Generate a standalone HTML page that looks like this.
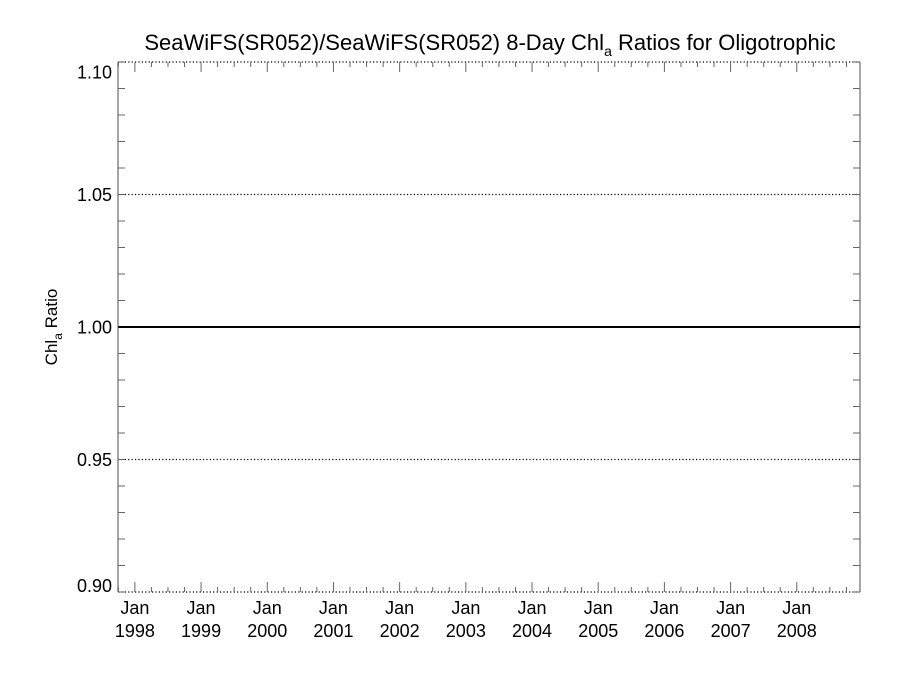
<!DOCTYPE html>
<html><head><meta charset="utf-8"><style>
body{margin:0;background:#fff;}
svg{display:block;font-family:"Liberation Sans",Arial,sans-serif;}
</style></head><body>
<svg id="chart" width="900" height="675" viewBox="0 0 900 675">
<text x="490" y="50" font-size="22" text-anchor="middle" fill="#000">SeaWiFS(SR052)/SeaWiFS(SR052) 8-Day Chl<tspan font-size="14" dy="6">a</tspan><tspan dy="-6"> Ratios for Oligotrophic</tspan></text>
<text transform="translate(57,327) rotate(-90)" font-size="17" text-anchor="middle">Chl<tspan font-size="12" dy="5">a</tspan><tspan dy="-5"> Ratio</tspan></text>
<g id="axes"></g>
<g id="series"></g>
</svg>
<script>
const yTicks=[0.90,0.95,1.00,1.05,1.10];
const yTickLabels=["0.90","0.95","1.00","1.05","1.10"];
const gridValues=[0.95,1.05];
const xYears=[1998,1999,2000,2001,2002,2003,2004,2005,2006,2007,2008];
const seriesX=[1997.75,2009.0];
const seriesY=[1.0,1.0];
const L=118,R=860,T=62,B=592;
const x0=1997.745,x1=2008.955,y0=0.9,y1=1.1;
const X=v=>L+(v-x0)/(x1-x0)*(R-L);
const Y=v=>B-(v-y0)/(y1-y0)*(B-T);
const NS="http://www.w3.org/2000/svg";
const ax=document.getElementById('axes'),se=document.getElementById('series');
function mk(tag,attrs,parent){const e=document.createElementNS(NS,tag);for(const k in attrs)e.setAttribute(k,attrs[k]);parent.appendChild(e);return e;}
let e;
e=mk('line',{x1:L,y1:T,x2:L,y2:B,stroke:'#888','stroke-width':1.5},ax);


e=mk('line',{x1:R,y1:T,x2:R,y2:B,stroke:'#888','stroke-width':1.5},ax);


e=mk('line',{x1:L,y1:T,x2:R,y2:T,stroke:'#000','stroke-width':1.2,'stroke-dasharray':'1.2 2.2'},ax);


e=mk('line',{x1:L,y1:B,x2:R,y2:B,stroke:'#000','stroke-width':1.2,'stroke-dasharray':'1.2 2.2'},ax);


gridValues.forEach(v=>{
 const g=mk('line',{x1:L,y1:Y(v),x2:R,y2:Y(v),stroke:'#000','stroke-width':1.2,'stroke-dasharray':'1.2 2.2'},ax);
 
 
});
for(let v=y0;v<=y1+1e-9;v+=0.01){
 const y=Y(v);
 const t1=mk('line',{x1:L,y1:y,x2:L+7,y2:y,stroke:'#666','stroke-width':1},ax);
 
 
 const t2=mk('line',{x1:R-7,y1:y,x2:R,y2:y,stroke:'#666','stroke-width':1},ax);
 
 
}
yTicks.forEach((v,i)=>{
 let off=6.5;
 if(v>=y1-1e-9) off=16.5; else if(v<=y0+1e-9) off=0;
 const t=mk('text',{x:L-6,y:Y(v)+off,'font-size':18,'text-anchor':'end'},ax);
 t.textContent=yTickLabels[i];
 
 
});
for(let q=0;q<48;q++){
 const v=1997.75+q*0.25;if(v>x1)break;
 const major=Math.abs(v-Math.round(v))<1e-6;
 const len=major?10:5,x=X(v);
 const a=mk('line',{x1:x,y1:B,x2:x,y2:B-len,stroke:'#666','stroke-width':1},ax);
 
 
 const b=mk('line',{x1:x,y1:T,x2:x,y2:T+len,stroke:'#666','stroke-width':1},ax);
 
 
}
xYears.forEach(yr=>{
 const x=X(yr);
 const t=mk('text',{x:x,y:614,'font-size':18,'text-anchor':'middle'},ax);
 t.textContent='Jan';
 
 
 const t2=mk('text',{x:x,y:637,'font-size':18,'text-anchor':'middle'},ax);
 t2.textContent=String(yr);
 
 
});
const pts=seriesX.map((v,i)=>Math.max(L,Math.min(R,X(v)))+','+Y(seriesY[i])).join(' ');
const p=mk('polyline',{points:pts,fill:'none',stroke:'#000','stroke-width':2},se);


</script>
</body></html>
